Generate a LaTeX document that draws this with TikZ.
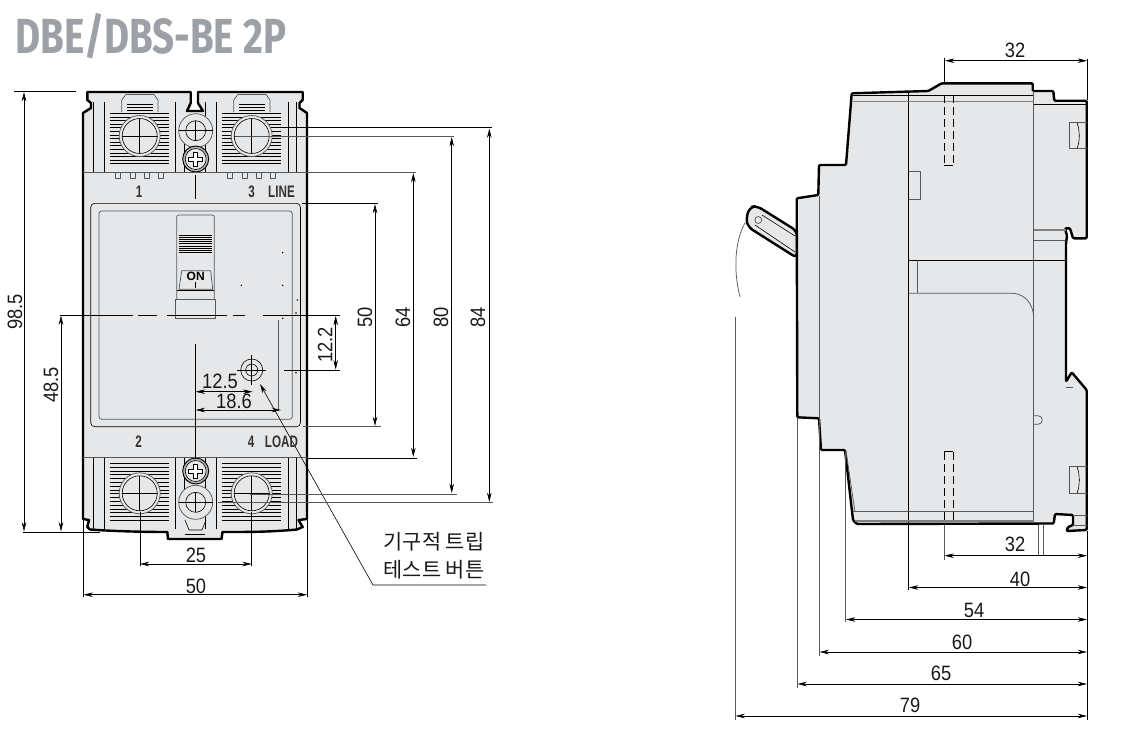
\documentclass[tikz,border=0pt]{standalone}
\usepackage{fontspec}
\usetikzlibrary{arrows.meta,positioning,calc}
\setmainfont{Liberation Sans}
\newfontfamily\dimfont[FakeStretch=.88]{Liberation Sans}
\newfontfamily\tagfont[FakeStretch=.7]{Liberation Sans}
\newfontfamily\titlefont[FakeStretch=.78]{Fira Sans Bold}
\newfontfamily\krfont{Noto Sans CJK KR}
\definecolor{body}{HTML}{E6E7E8}
\definecolor{titlegray}{HTML}{9BA1A6}
\definecolor{linegray}{HTML}{555759}

\begin{document}
\begin{tikzpicture} [> = {Stealth[length=7pt,width=3.4pt]}, x=.75pt, y=-.75pt, line join=round]
            % Estilos
            \tikzstyle{outline}=[draw=black, line width=1.8pt, fill=body]
            \tikzstyle{edge}=[draw=black, line width=.45pt]
            \tikzstyle{soft}=[draw=linegray, line width=.55pt]
            \tikzstyle{band}=[draw=gray, line width=.9pt]
            \tikzstyle{dim}=[draw=black, line width=.45pt]
            \tikzstyle{dimtext}=[font=\dimfont\fontsize{15.6}{16}\selectfont, inner sep=0pt, text=black!90]
            \tikzstyle{tag}=[font=\tagfont\bfseries\fontsize{12.5}{12.5}\selectfont, inner sep=0pt, text=black!80]
            \useasboundingbox (0,0) rectangle (1134,736);

            % Titulo
            \node[font=\titlefont\fontsize{37}{37}\selectfont, text=titlegray, inner sep=0pt, anchor=base west] (title) at (15,53) {DBE/DBS-BE 2P};

            % Vista frontal: corpo
            \draw[outline] (83,113) -- (91,108) -- (91,103) -- (87.3,100) -- (87.3,92) -- (190.7,92) -- (190.7,103) -- (187,111)
                -- (203,111) -- (198,103) -- (198,92) -- (302.7,92) -- (302.7,100) -- (299.5,103) -- (299.5,108) -- (307,113)
                -- (307,519) -- (298.5,520) -- (302.7,527) -- (297,529.5) .. controls (270,532) and (250,532) .. (222.5,532)
                -- (221.5,539) -- (168,539) -- (167.3,532) .. controls (140,532) and (110,531) .. (90,529.5)
                -- (87.3,527) -- (89,520) -- (83,519) -- cycle;

            % Bornes
            \foreach \yo/\ya/\yb in {0/102/172, 1/457.3/529}{
                \foreach \xv in {93.3,104.3,175.7,205,216,288.3,296}
                    \draw[edge] (\xv,\ya) -- (\xv,\yb);
            }
            \draw[edge] (184.3,135) -- (184.3,172);
            \draw[edge] (184.3,457) -- (184.3,500);
            \foreach \dx in {0,112}{
                \draw[soft, fill=body] (121.7+\dx,112) -- (121.7+\dx,100) -- (126+\dx,94.5) -- (154+\dx,94.5) -- (158+\dx,100) -- (158+\dx,112);
                \foreach \yh in {104.5,107,110}
                    \draw[edge] (127+\dx,\yh) -- (153+\dx,\yh);
                \foreach \yh in {113.5,117.1,...,167.5}
                    \draw[black, line width=.7pt] (110+\dx,\yh) -- (169+\dx,\yh);
                \foreach \yh in {463.5,467.3,...,523.5}
                    \draw[black, line width=.7pt] (110+\dx,\yh) -- (169+\dx,\yh);
                \foreach \ysc in {136,493.3}{
                    \draw[soft, fill=body] (139.7+\dx,\ysc) circle (20.5);
                    \draw[edge, fill=body] (139.7+\dx,\ysc) circle (17.5);
                    \draw[edge] (122+\dx,\ysc) -- (157.5+\dx,\ysc);
                    \draw[edge] (139.7+\dx,\ysc-17.5) -- (139.7+\dx,\ysc+17.5);
                }
                \foreach \xu in {115.7,130,144.4,158.7}
                    \draw[soft] (\xu+\dx,173) -- (\xu+\dx,178) -- (\xu+\dx+5,178) -- (\xu+\dx+5,173);
            }
            \foreach \yr in {130.7,502.3}{
                \draw[soft, fill=body] (195.7,\yr) circle (17);
                \draw[edge] (195.7,\yr) circle (10);
                \draw[edge] (195.7,\yr-10) -- (195.7,\yr+10);
                \draw[edge] (178.7,\yr) -- (212.7,\yr);
            }
            \draw[edge] (185,520) -- (189,530) -- (202,530) -- (206,520);
            \foreach \yc in {159,471}{
                \begin{scope}[shift={(195.7,\yc)}]
                    \draw[draw=black, line width=.7pt, fill=gray!55] (0,0) circle (13);
                    \draw[edge, fill=body] (0,0) circle (10.5);
                    \draw[draw=black, line width=.6pt, fill=white] (-2,-7) -- (2,-7) -- (2,-2) -- (7,-2) -- (7,2) -- (2,2) -- (2,7) -- (-2,7) -- (-2,2) -- (-7,2) -- (-7,-2) -- (-2,-2) -- cycle;
                \end{scope}
            }
            \draw[edge] (205,534) -- (185,534);

            % Faixas e paineis
            \draw[soft] (83,172) -- (307,172);
            \draw[soft] (83,457.3) -- (307,457.3);
            \draw[edge, rounded corners=3pt] (90.7,203.3) rectangle (300.5,426.7);
            \draw[soft, rounded corners=2pt] (99,211) rectangle (292.3,419.3);

            % Alavanca
            \draw[soft, rounded corners=1.5pt, fill=body] (176.7,299.3) -- (176.7,215) -- (214.3,215) -- (214.3,299.3);
            \draw[soft, fill=body] (175.7,299.3) rectangle (215.7,318.3);
            \foreach \yh in {235,237.2,...,254}
                \draw[black, line width=.6pt] (179,\yh) -- (212,\yh);
            \draw[soft] (181.7,270.7) -- (210.7,270.7) -- (212.7,289.3) -- (179,289.3) -- cycle;
            \draw[edge] (176.7,290) -- (214.3,290);
            \draw[edge] (195.7,282) -- (195.7,288);
            \node[font=\bfseries\fontsize{9}{9}\selectfont, inner sep=0pt] (on) at (195.7,276.5) {ON};

            % Linhas de centro
            \draw[edge] (195.7,175) -- (195.7,199);
            \draw[edge] (195.7,344) -- (195.7,459);
            \foreach \xa/\xb in {60/133,138/157,167/227,233/245,263/340}
                \draw[edge] (\xa,315) -- (\xb,315);

            % Pontos
            \foreach \xp/\yp in {282.7/252.7,282.7/285.3,241.3/285.3,297.3/300,296/313,282.7/318.3,296/372.7}
                \fill[black] (\xp,\yp) circle (.8);
            \draw[soft] (278.3,320) -- (278.3,410);

            % Botao de teste
            \draw[edge, fill=body] (251.7,370) circle (11);
            \draw[edge] (251.7,370) circle (6);
            \draw[edge] (237,370) -- (266,370);
            \draw[edge] (251.7,355) -- (251.7,385);
            \coordinate (btn) at (260,384);
            \coordinate (bend) at (373,585);
            \coordinate (bendend) at (486,585);
            \draw[->,dim] (bendend) -- (bend) -- (btn);

            % Etiquetas
            \node[tag] (t1) at (139,192) {1};
            \node[tag] (t3) at (251.5,191.5) {3};
            \node[tag] (line) at (281.5,191.5) {LINE};
            \node[tag] (t2) at (138.5,442) {2};
            \node[tag] (t4) at (251,442) {4};
            \node[tag] (load) at (281.5,442) {LOAD};

            % Cotas frontais
            \draw[dim] (14,91) -- (76,91);
            \draw[dim] (23,532) -- (100,532);
            \draw[<->,dim] (24,92) -- (24,531.5);
            \draw[<->,dim] (61,315.5) -- (61,531.5);
            \draw[dim] (140,512) -- (140,566);
            \draw[dim] (251.7,512) -- (251.7,566);
            \draw[<->,dim] (140,564) -- (251.7,564);
            \draw[dim] (83.5,520) -- (83.5,597);
            \draw[dim] (307,520) -- (307,597);
            \draw[<->,dim] (83.5,594.7) -- (307,594.7);
            \draw[<->,dim] (195.7,391.7) -- (252.5,391.7);
            \draw[<->,dim] (195.7,410) -- (281,410);
            \draw[dim] (284,370) -- (340,370);
            \draw[<->,dim] (335.7,316) -- (335.7,369.5);
            \draw[dim] (302,203.3) -- (378,203.3);
            \draw[soft] (303,426.7) -- (381,426.7);
            \draw[<->,dim] (375,204) -- (375,426);
            \draw[soft] (307,172) -- (415.5,172);
            \draw[dim] (307,458) -- (417,458);
            \draw[<->,dim] (413.3,173) -- (413.3,457);
            \draw[soft] (235,136) -- (454,136);
            \draw[soft] (250,494) -- (457,494);
            \draw[<->,dim] (451.7,137) -- (451.7,493);
            \draw[dim] (277,127.3) -- (492,127.3);
            \draw[soft] (218,502.7) -- (493,502.7);
            \draw[<->,dim] (489.3,128.5) -- (489.3,502);
            \node[dimtext, rotate=90] (d985) at (15,312) {98.5};
            \node[dimtext, rotate=90] (d485) at (51,385) {48.5};
            \node[dimtext, rotate=90] (d122) at (325,345) {12.2};
            \node[dimtext, rotate=90] (d50v) at (365,317) {50};
            \node[dimtext, rotate=90] (d64) at (403,317) {64};
            \node[dimtext, rotate=90] (d80) at (441,317) {80};
            \node[dimtext, rotate=90] (d84) at (478,317) {84};
            \node[dimtext] (d125) at (220,381.5) {12.5};
            \node[dimtext] (d186) at (234,401.5) {18.6};
            \node[dimtext] (d25) at (196,555.5) {25};
            \node[dimtext] (d50h) at (196,586) {50};
            \node[font=\krfont\fontsize{15.6}{16}\selectfont, inner sep=0pt, text=black!90] (kr1) at (434,542) {기구적 트립};
            \node[font=\krfont\fontsize{15.6}{16}\selectfont, inner sep=0pt, text=black!90] (kr2) at (434,570) {테스트 버튼};

            % Vista lateral: manopla
            \draw[outline, rounded corners=4pt] (797,231) -- (757,206) -- (750,207) -- (746,218) -- (748,227) -- (797,258) -- cycle;
            \draw[edge] (755,225) -- (795,252);
            \draw[edge] (762,215) -- (795,236);
            \draw[soft] (758.3,220) circle (3.5);
            \draw[soft] (745,223) .. controls (735,240) and (733,270) .. (740,297);

            % Vista lateral: corpo
            \draw[outline, rounded corners=.8pt] (851.7,93.3) -- (928.3,91) -- (941.7,83.3) -- (1032.7,83.3) -- (1032.7,91) -- (1053.3,91)
                -- (1054.3,100.7) -- (1086.7,100.7) -- (1086.7,238.3) -- (1073,238.3) -- (1070,228.3) -- (1065,228.3) -- (1067,236) -- (1066,243)
                -- (1066,381.7) -- (1071.7,372.3) -- (1086.7,390) -- (1086.7,530) -- (1066.5,531) -- (1068,527) -- (1073,525) -- (1073,515)
                -- (1055,514) -- (1053.7,523.5) -- (856.7,524) -- (853,520) -- (845,450) -- (821,450) -- (819,418.3) -- (797.3,417.3)
                -- (796.7,198.3) -- (818.3,195) -- (819,165) -- (846,165) -- cycle;

            % Linhas internas
            \draw[draw=black, line width=.6pt] (908.7,92) -- (908.7,590);
            \draw[soft] (1033.7,91) -- (1033.7,523);
            \draw[soft] (819,196) -- (819,656);
            \draw[edge] (853,95.7) -- (1033,95.7);
            \draw[band] (853,101.7) -- (1033.7,101.7);
            \draw[edge] (1033.7,104) -- (1086,104);
            \draw[soft] (908.7,171.7) -- (920,171.7) -- (920,199) -- (908.7,199);
            \draw[soft] (1087,122.7) -- (1069,122.7) -- (1069,148.3) -- (1087,148.3);
            \draw[edge] (1077,122.7) .. controls (1080,130) and (1080,142) .. (1077,148.3);
            \draw[soft] (1087,466.7) -- (1069,466.7) -- (1069,493.3) -- (1087,493.3);
            \draw[edge] (1077,466.7) .. controls (1080,474) and (1080,486) .. (1077,493.3);
            \draw[band] (1033.7,230) -- (1066,230);
            \draw[soft] (1033.7,240) -- (1066,240);
            \draw[draw=black, line width=.6pt] (908.7,260) -- (1066,260);
            \draw[soft] (917.7,260) -- (917.7,293.3);
            \draw[soft] (908.7,293.3) -- (1013,293.3) .. controls (1025,294) and (1033,304) .. (1033.7,316.7);
            \draw[soft] (1033.7,415.7) -- (1038,415.7) arc (-90:90:4.3) -- (1033.7,424.3);
            \draw[soft] (853,511.7) -- (1033.7,511.7);
            \draw[band] (855,521) -- (1033.7,521);
            \draw[soft] (846,451) -- (855,512);
            \draw[soft] (1066,387) -- (1073,387);
            \draw[soft] (1073,515) -- (1087,515);
            \draw[soft] (1073,525) -- (1087,525);

            % Pinos tracejados
            \foreach \xd in {944.3,953.3}{
                \draw[edge, dash pattern=on 6pt off 3pt] (\xd,95) -- (\xd,165);
                \draw[edge, dash pattern=on 6pt off 3pt] (\xd,452) -- (\xd,524);
            }
            \draw[edge] (944.3,95) -- (953.3,95);
            \draw[edge] (944.3,165) -- (953.3,165);
            \draw[edge] (944.3,451.7) -- (953.3,451.7);

            % Cotas laterais
            \draw[soft] (1038.3,525) -- (1038.3,556);
            \draw[soft] (1043.3,525) -- (1043.3,556);
            \draw[dim] (944.7,58) -- (944.7,84);
            \draw[dim] (1087.3,59) -- (1087.3,100);
            \draw[<->,dim] (945,60.7) -- (1087,60.7);
            \draw[soft] (944,525) -- (944,560);
            \draw[dim] (1087.3,531) -- (1087.3,720);
            \draw[<->,dim] (944.5,555.7) -- (1087,555.7);
            \draw[<->,dim] (909,587.5) -- (1087,587.5);
            \draw[soft] (845.7,451) -- (845.7,622);
            \draw[<->,dim] (846,619.5) -- (1087,619.5);
            \draw[<->,dim] (819.5,652) -- (1087,652);
            \draw[soft] (797,418) -- (797,688);
            \draw[<->,dim] (797.5,684) -- (1087,684);
            \draw[soft] (735,317) -- (735,720);
            \draw[<->,dim] (735.5,716) -- (1087,716);
            \node[dimtext] (top32) at (1015,50) {32};
            \node[dimtext] (low32) at (1015,544.5) {32};
            \node[dimtext] (d40) at (1020,579) {40};
            \node[dimtext] (d54) at (974,610.5) {54};
            \node[dimtext] (d60) at (962,642) {60};
            \node[dimtext] (d65) at (941,673.5) {65};
            \node[dimtext] (d79) at (910,705) {79};
        \end{tikzpicture}
\end{document}
